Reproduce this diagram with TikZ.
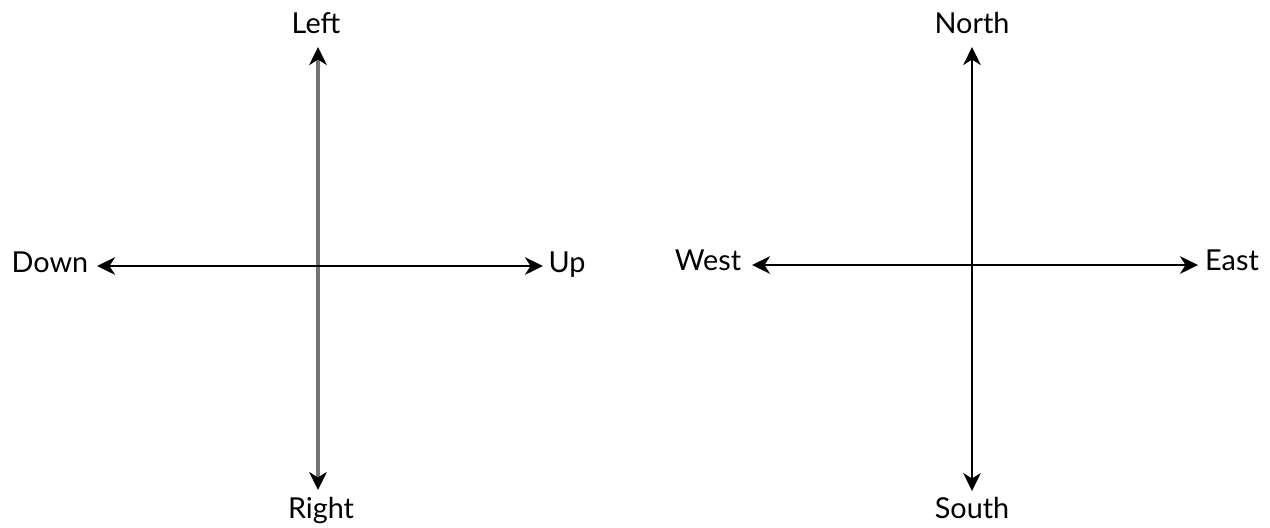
\documentclass[tikz,border=0pt]{standalone}
\usepackage{fontspec}
\setmainfont{Lato}
\usetikzlibrary{arrows.meta}
\begin{document}
\begin{tikzpicture}[x=0.1mm,y=-0.1mm,
  lbl/.style={anchor=base,inner sep=0pt,font=\fontsize{8.2}{10}\selectfont},
  axis/.style={line width=0.65pt,{Stealth[length=1.8mm,width=1.75mm,inset=0.55mm]}-{Stealth[length=1.8mm,width=1.75mm,inset=0.55mm]}},
  greyaxis/.style={draw=black!55,line width=0.9pt,{Stealth[length=1.8mm,width=1.75mm,inset=0.55mm,color=black]}-{Stealth[length=1.8mm,width=1.75mm,inset=0.55mm,color=black]}}]
\useasboundingbox (0,0) rectangle (1270,527);
% left cross
\coordinate (lt) at (318,47);
\coordinate (lb) at (318,490);
\coordinate (ll) at (97,266);
\coordinate (lr) at (543,266);
\draw[greyaxis] (lt) -- (lb);
\draw[axis] (ll) -- (lr);
\node[lbl] (left) at (316,33) {Left};
\node[lbl] (right) at (321,518) {Right};
\node[lbl] (down) at (50,272) {Down};
\node[lbl] (up) at (567,272) {Up};
% right cross
\coordinate (rt) at (972,47);
\coordinate (rb) at (972,491);
\coordinate (rl) at (752,265);
\coordinate (rr) at (1198,265);
\draw[axis] (rt) -- (rb);
\draw[axis] (rl) -- (rr);
\node[lbl] (north) at (972,33) {North};
\node[lbl] (south) at (972,518) {South};
\node[lbl] (west) at (708,270) {West};
\node[lbl] (east) at (1232,270) {East};
\end{tikzpicture}
\end{document}
